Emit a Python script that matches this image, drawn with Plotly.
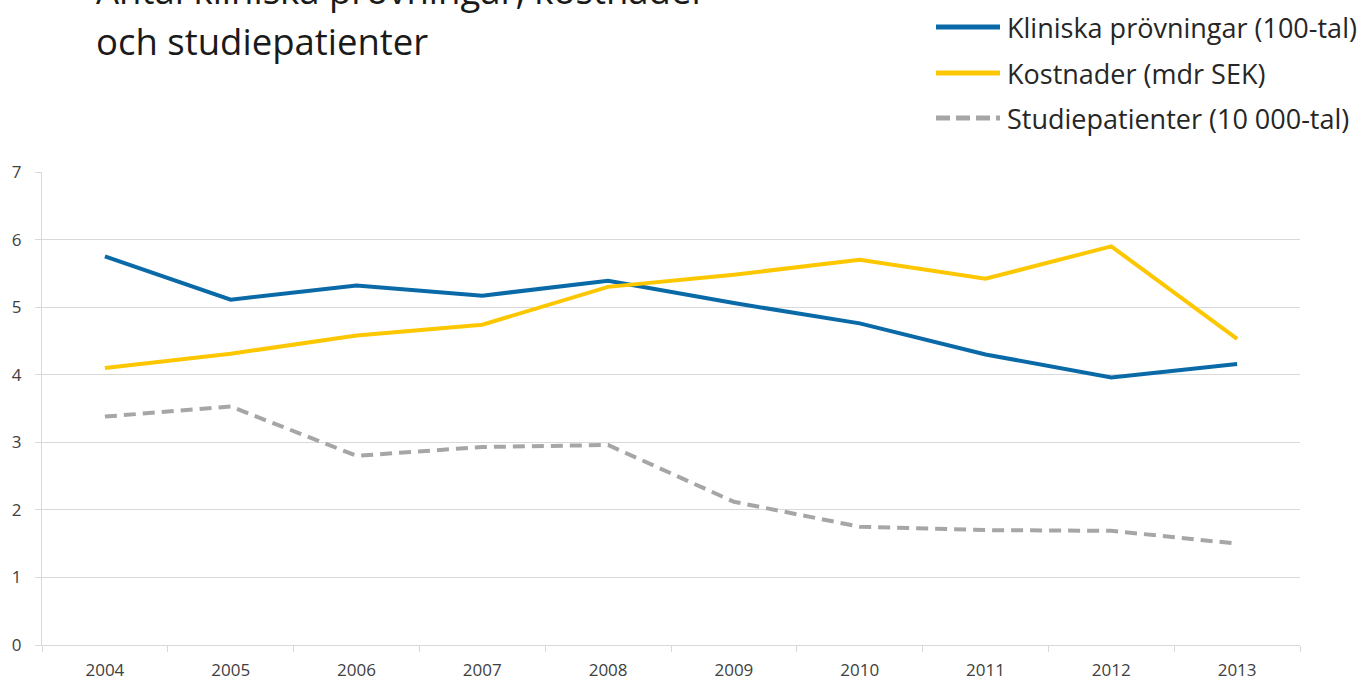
import plotly.graph_objects as go

years = ["2004", "2005", "2006", "2007", "2008", "2009", "2010", "2011", "2012", "2013"]
kliniska = [5.75, 5.11, 5.32, 5.17, 5.39, 5.06, 4.76, 4.30, 3.96, 4.16]
kostnader = [4.10, 4.31, 4.58, 4.74, 5.30, 5.48, 5.70, 5.42, 5.90, 4.53]
patienter = [3.38, 3.53, 2.80, 2.93, 2.96, 2.12, 1.75, 1.70, 1.69, 1.50]

names = ["Kliniska prövningar (100-tal)", "Kostnader (mdr SEK)", "Studiepatienter (10 000-tal)"]
colors = ["#0a6aa8", "#fdc700", "#a6a6a6"]
dashes = ["solid", "solid", "dash"]
title_lines = ["Antal kliniska prövningar, kostnader", "och studiepatienter"]

W, H = 1368, 683
ML, MR, MT, MB = 42, 68, 172, 38
PW, PH = W - ML - MR, H - MT - MB

def px(x):
    return (x - ML) / PW

def py(y):
    return (H - MB - y) / PH

fig = go.Figure()
for vals, name, c, d in zip([kliniska, kostnader, patienter], names, colors, dashes):
    fig.add_trace(go.Scatter(x=years, y=vals, mode="lines", name=name,
                             line=dict(color=c, width=4, dash=d if d == "solid" else "12px,7px"),
                             showlegend=False))

shapes = []
annotations = []
legend_y = [27, 73, 118]
for name, c, d, ly in zip(names, colors, dashes, legend_y):
    shapes.append(dict(type="line", xref="paper", yref="paper",
                       x0=px(936), x1=px(1000), y0=py(ly), y1=py(ly),
                       line=dict(color=c, width=5, dash="solid" if d == "solid" else "14px,6px")))
    annotations.append(dict(text=name, xref="paper", yref="paper", x=px(1005), y=py(ly),
                            xanchor="left", yanchor="middle", showarrow=False,
                            font=dict(family="Open Sans", size=27, color="#262626")))

for line, cy in zip(title_lines, [-10, 41]):
    annotations.append(dict(text=line, xref="paper", yref="paper", x=px(94), y=py(cy),
                            xanchor="left", yanchor="middle", showarrow=False,
                            font=dict(family="Open Sans", size=36.5, color="#1a1a1a")))

fig.update_layout(
    width=W, height=H,
    margin=dict(l=ML, r=MR, t=MT, b=MB, autoexpand=False),
    plot_bgcolor="white", paper_bgcolor="white",
    shapes=shapes, annotations=annotations,
    xaxis=dict(type="category", range=[-0.5, 9.5], tickson="boundaries", ticks="outside", ticklen=6,
               tickcolor="#d9d9d9", showgrid=False, showline=True, linecolor="#d9d9d9",
               linewidth=1, tickfont=dict(family="Open Sans", size=17, color="#404040"),
               zeroline=False, automargin=False, ticklabelstandoff=10),
    yaxis=dict(range=[0, 7], dtick=1, showgrid=True, gridcolor="#d9d9d9", gridwidth=1,
               showline=True, linecolor="#d9d9d9", ticks="outside", ticklen=6,
               tickcolor="#d9d9d9", zeroline=False, automargin=False, ticklabelstandoff=10,
               tickfont=dict(family="Open Sans", size=17, color="#404040")),
)

fig.write_html("out.html", post_script="document.body.style.margin='0';",
               config={"displayModeBar": False})
